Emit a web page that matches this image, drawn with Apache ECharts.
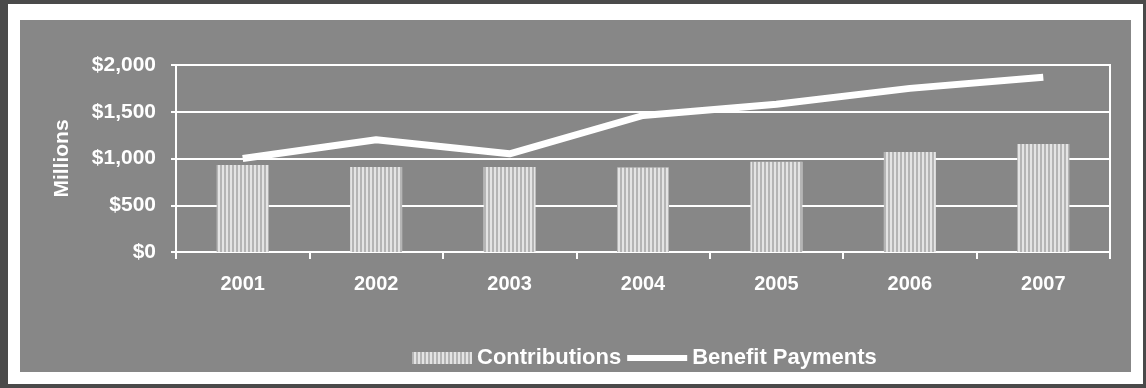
<!DOCTYPE html>
<html><head><meta charset="utf-8">
<script src="https://cdn.jsdelivr.net/npm/echarts@6/dist/echarts.min.js"></script>
<style>html,body{margin:0;padding:0;background:#3c3c3c}#c{width:1146px;height:388px}</style>
</head><body><div id="c"></div>
<script>
const years = ['2001','2002','2003','2004','2005','2006','2007'];
const contributions = [930, 910, 910, 905, 965, 1070, 1155];
const benefitPayments = [1000, 1200, 1050, 1460, 1580, 1750, 1870];
const yTicks = [0, 500, 1000, 1500, 2000];

const chart = echarts.init(document.getElementById('c'), null, {renderer:'canvas'});
const font = '"Liberation Sans", Arial, sans-serif';
chart.setOption({
  backgroundColor: '#4a4a4a',
  animation: false,
  graphic: [
    {type:'rect', z:-10, shape:{x:8,y:4,width:1135,height:380}, style:{fill:'#ffffff'}, silent:true},
    {type:'rect', z:-9, shape:{x:20,y:20,width:1111,height:352}, style:{fill:'#878787'}, silent:true}
  ],
  grid: {left:176, right:36, top:65, bottom:136, show:true, borderColor:'#ffffff', borderWidth:2, backgroundColor:'transparent'},
  legend: {
    left: 407, top: 342,
    itemGap: 6,
    textStyle: {color:'#ffffff', fontFamily:font, fontWeight:'bold', fontSize:22},
    data: [
      {name:'Contributions', icon:'rect', itemStyle:{color:'#e4e4e4'}},
      {name:'Benefit Payments', icon:'path://M0,0 L10,0 L10,1 L0,1 Z', itemStyle:{color:'#ffffff'}}
    ],
    itemWidth: 60, itemHeight: 12
  },
  xAxis: {
    type:'category', data: years,
    axisLine:{lineStyle:{color:'#ffffff', width:2}},
    axisTick:{show:true, length:7, lineStyle:{color:'#ffffff', width:2}},
    axisLabel:{color:'#ffffff', fontFamily:font, fontWeight:'bold', fontSize:20, margin:22}
  },
  yAxis: {
    type:'value', min:0, max:2000, interval:500,
    name:'Millions', nameLocation:'middle', nameGap:103,
    nameTextStyle:{color:'#ffffff', fontFamily:font, fontWeight:'bold', fontSize:21},
    axisLine:{show:true, lineStyle:{color:'#ffffff', width:2}},
    axisTick:{show:true, length:5, lineStyle:{color:'#ffffff', width:2}},
    axisLabel:{color:'#ffffff', fontFamily:font, fontWeight:'bold', fontSize:21, margin:20,
      formatter: v => yTicks.includes(v) ? '$' + v.toLocaleString('en-US') : ''},
    splitLine:{lineStyle:{color:'#ffffff', width:2}}
  },
  series: [
    {
      name:'Contributions', type:'bar', data: contributions, barWidth:'39%',
      itemStyle:{color:'#e4e4e4',
        decal:{symbol:'rect', symbolSize:1, dashArrayX:[[2,2]], dashArrayY:[4,0], color:'rgba(110,110,110,0.4)'}}
    },
    {
      name:'Benefit Payments', type:'line', data: benefitPayments,
      symbol:'none', lineStyle:{color:'#ffffff', width:7}, itemStyle:{color:'#ffffff'}
    }
  ]
});
</script></body></html>
